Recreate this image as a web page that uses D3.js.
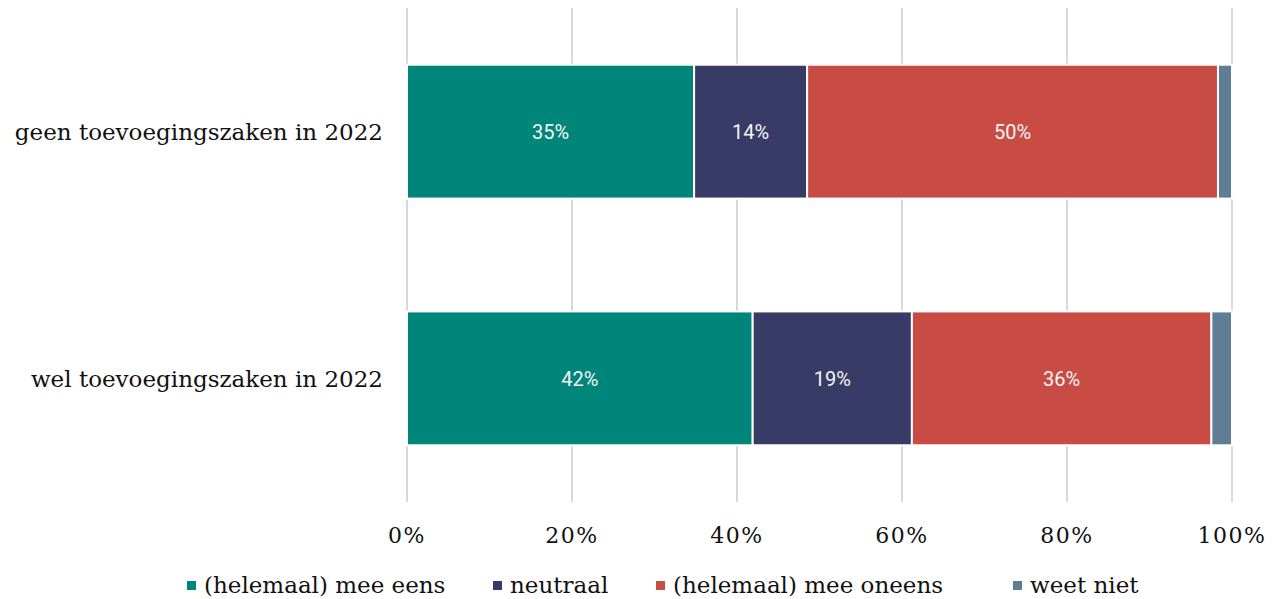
<!DOCTYPE html>
<html>
<head>
<meta charset="utf-8">
<script src="https://cdn.jsdelivr.net/npm/d3@7"></script>
<style>
  body { margin: 0; background: #fff; }
  svg { display: block; }
</style>
</head>
<body>
<div></div>
<script>
var width = 1286;
var height = 599;

var categories = ["geen toevoegingszaken in 2022", "wel toevoegingszaken in 2022"];
var seriesNames = ["(helemaal) mee eens", "neutraal", "(helemaal) mee oneens", "weet niet"];
var seriesColors = ["#00857a", "#383b66", "#c94c44", "#5f7d93"];
var meeEens = [34.8, 41.9];
var neutraal = [13.7, 19.3];
var meeOneens = [49.8, 36.3];
var weetNiet = [1.7, 2.5];
var labels = [["35%", "14%", "50%", ""], ["42%", "19%", "36%", ""]];
var ticks = [0, 20, 40, 60, 80, 100];

var serif = "'DejaVu Serif', serif";

var svg = d3.select("div")
	.append("svg")
	.attr("width", width)
	.attr("height", height);

var x = d3.scaleLinear().domain([0, 100]).range([407, 1232]);
var y = d3.scaleBand().domain(categories).range([8, 502]).paddingInner(0.4575).paddingOuter(0.23);

// rows of stacked data
var rows = categories.map((c, i) => ({
	cat: c,
	values: [meeEens[i], neutraal[i], meeOneens[i], weetNiet[i]],
	labels: labels[i]
}));
var stack = d3.stack().keys([0, 1, 2, 3]).value((d, k) => d.values[k]);
var stacked = stack(rows);

// gridlines
svg.append("g")
	.selectAll("line")
	.data(ticks)
	.enter()
	.append("line")
	.attr("x1", d => x(d))
	.attr("x2", d => x(d))
	.attr("y1", 8)
	.attr("y2", 502)
	.attr("stroke", "#d9d9d9")
	.attr("stroke-width", 2);

// bars
var layers = svg.append("g")
	.selectAll("g")
	.data(stacked)
	.enter()
	.append("g")
	.attr("fill", d => seriesColors[d.key]);

layers.selectAll("rect")
	.data(d => d)
	.enter()
	.append("rect")
	.attr("x", d => x(d[0]))
	.attr("width", d => x(d[1]) - x(d[0]))
	.attr("y", d => y(d.data.cat))
	.attr("height", y.bandwidth())
	.attr("stroke", "#fff")
	.attr("stroke-width", 2);

// bar labels
layers.selectAll("text")
	.data((d) => d.map(p => ({ p: p, key: d.key })))
	.enter()
	.append("text")
	.attr("x", d => (x(d.p[0]) + x(d.p[1])) / 2)
	.attr("y", d => y(d.p.data.cat) + y.bandwidth() / 2)
	.attr("dy", "0.36em")
	.attr("text-anchor", "middle")
	.attr("fill", "#f4f4f4")
	.attr("font-family", "Roboto, sans-serif")
	.attr("font-size", 20)
	.text(d => d.p.data.labels[d.key]);

// category labels
svg.append("g")
	.selectAll("text")
	.data(categories)
	.enter()
	.append("text")
	.attr("x", 383)
	.attr("y", d => y(d) + y.bandwidth() / 2)
	.attr("dy", "0.36em")
	.attr("text-anchor", "end")
	.attr("font-family", serif)
	.attr("font-size", 23)
	.attr("fill", "#111")
	.text(d => d);

// x tick labels
svg.append("g")
	.selectAll("text")
	.data(ticks)
	.enter()
	.append("text")
	.attr("x", d => x(d))
	.attr("y", 543)
	.attr("text-anchor", "middle")
	.attr("font-family", serif)
	.attr("font-size", 22)
	.attr("letter-spacing", 1.5)
	.attr("fill", "#111")
	.text(d => d + "%");

// legend
var legendX = [187, 493, 656, 1013];
var legend = svg.append("g")
	.selectAll("g")
	.data(seriesNames)
	.enter()
	.append("g")
	.attr("transform", (d, i) => "translate(" + legendX[i] + ",585)");

legend.append("rect")
	.attr("x", 0)
	.attr("y", -4)
	.attr("width", 9)
	.attr("height", 9)
	.attr("fill", (d, i) => seriesColors[i]);

legend.append("text")
	.attr("x", 17)
	.attr("y", 0)
	.attr("dy", "0.36em")
	.attr("font-family", serif)
	.attr("font-size", 23)
	.attr("fill", "#111")
	.text(d => d);
</script>
</body>
</html>
